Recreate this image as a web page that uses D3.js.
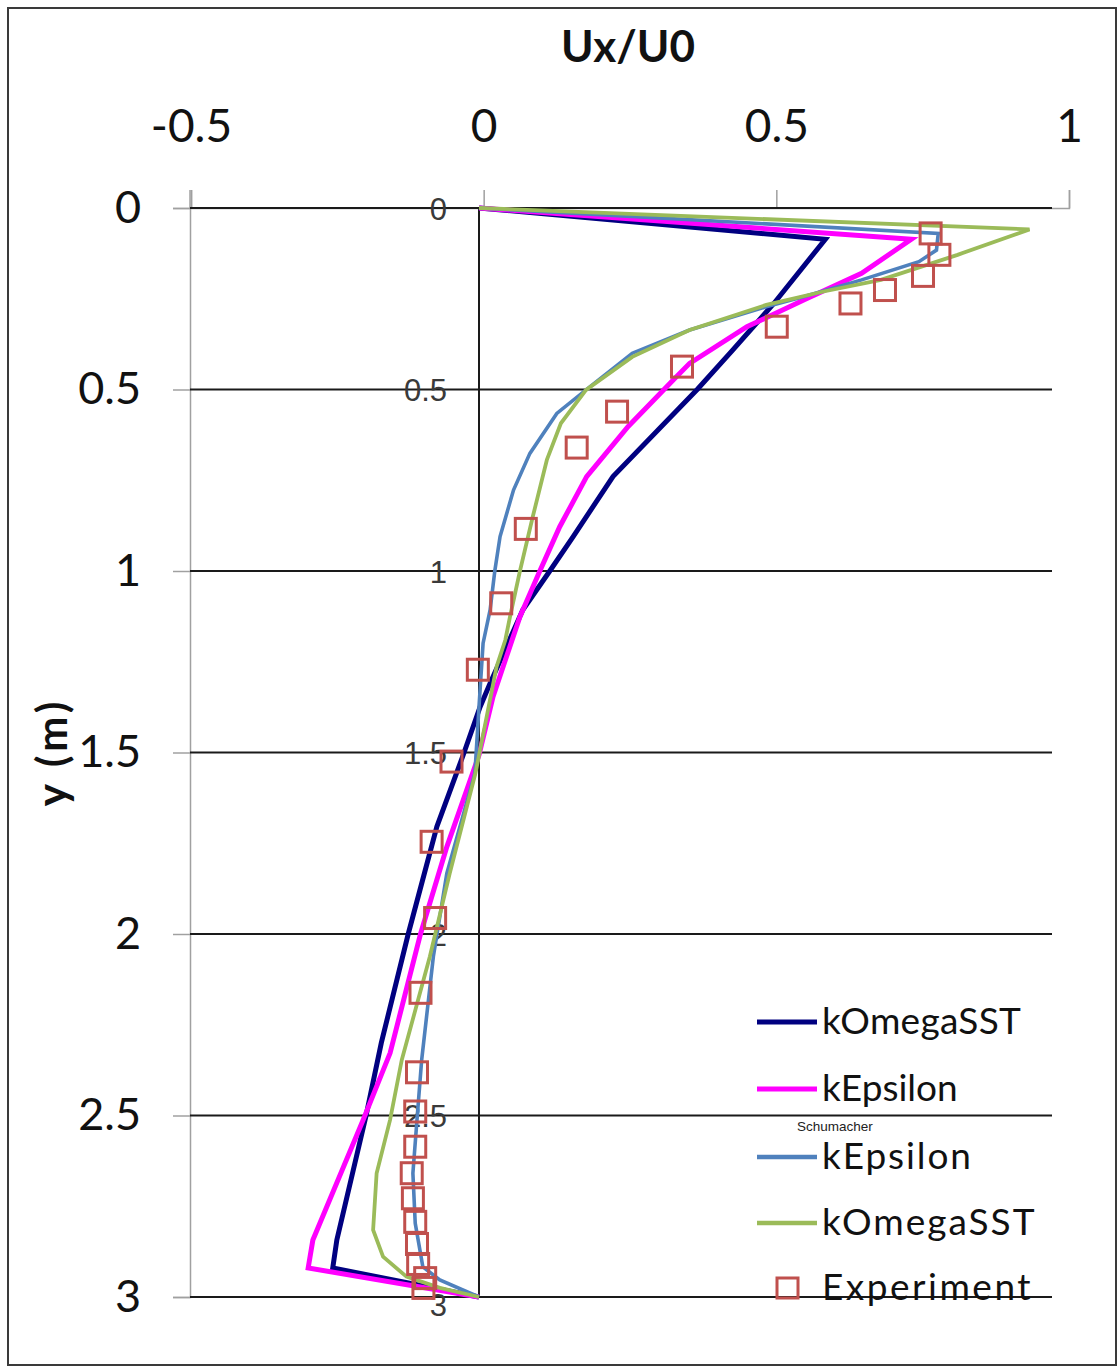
<!DOCTYPE html>
<html>
<head>
<meta charset="utf-8">
<script src="https://cdn.jsdelivr.net/npm/d3@7/dist/d3.min.js"></script>
<style>
  body { margin: 0; background: #fff; }
  svg { display: block; }
</style>
</head>
<body>
<svg id="chart" width="1118" height="1368"></svg>
<script>
// ---------------- DATA ----------------
const xTickValues = [-0.5, 0, 0.5, 1];
const xTickLabels = ["-0.5", "0", "0.5", "1"];
const yTickValues = [0, 0.5, 1, 1.5, 2, 2.5, 3];
const yTickLabels = ["0", "0.5", "1", "1.5", "2", "2.5", "3"];

// kOmegaSST (navy)
const komegaDepth = [0, 0.086, 0.263, 0.391, 0.5, 0.74, 0.905, 1.0, 1.107, 1.19, 1.309, 1.374, 1.507, 1.704, 2.0, 2.3, 2.5, 2.843, 2.92, 3.0];
const komegaUx    = [0, 0.592, 0.504, 0.434, 0.373, 0.229, 0.161, 0.121, 0.075, 0.052, 0.019, 0.002, -0.027, -0.072, -0.121, -0.167, -0.193, -0.243, -0.25, 0];

// kEpsilon (magenta)
const kepsDepth = [0, 0.086, 0.18, 0.253, 0.327, 0.428, 0.474, 0.602, 0.74, 0.878, 1.0, 1.126, 1.346, 1.507, 1.76, 2.0, 2.328, 2.512, 2.843, 2.92, 3.0];
const kepsUx    = [0, 0.739, 0.654, 0.556, 0.458, 0.36, 0.332, 0.255, 0.184, 0.138, 0.104, 0.070, 0.024, 0.0, -0.055, -0.10, -0.152, -0.198, -0.284, -0.292, 0];

// kEpsilon Schumacher (steel blue)
const kepsSchDepth = [0, 0.07, 0.116, 0.148, 0.198, 0.244, 0.272, 0.336, 0.40, 0.501, 0.566, 0.676, 0.777, 0.905, 1.0, 1.107, 1.199, 1.374, 1.557, 1.833, 2.062, 2.347, 2.512, 2.659, 2.797, 2.917, 2.953, 3.0];
const kepsSchUx    = [0, 0.785, 0.782, 0.752, 0.654, 0.556, 0.491, 0.36, 0.262, 0.183, 0.133, 0.087, 0.059, 0.036, 0.027, 0.019, 0.007, 0.0, -0.007, -0.055, -0.078, -0.098, -0.106, -0.113, -0.109, -0.096, -0.067, 0];

// kOmegaSST Schumacher (green)
const komegaSchDepth = [0, 0.059, 0.129, 0.198, 0.23, 0.267, 0.336, 0.41, 0.501, 0.593, 0.694, 0.85, 1.0, 1.126, 1.19, 1.264, 1.557, 1.833, 2.062, 2.347, 2.512, 2.659, 2.815, 2.889, 2.944, 2.975, 3.0];
const komegaSchUx    = [0, 0.941, 0.818, 0.687, 0.589, 0.491, 0.36, 0.262, 0.183, 0.14, 0.116, 0.092, 0.070, 0.053, 0.045, 0.030, -0.006, -0.05, -0.084, -0.132, -0.152, -0.175, -0.181, -0.164, -0.124, -0.067, 0];

// Experiment (squares)
const expDepth = [0.070, 0.129, 0.187, 0.226, 0.263, 0.327, 0.437, 0.561, 0.660, 0.884, 1.089, 1.272, 1.525, 1.746, 1.956, 2.162, 2.381, 2.489, 2.586, 2.659, 2.728, 2.793, 2.854, 2.909, 2.948, 2.975];
const expUx    = [0.772, 0.787, 0.759, 0.694, 0.635, 0.509, 0.347, 0.236, 0.167, 0.080, 0.038, -0.002, -0.047, -0.081, -0.075, -0.10, -0.106, -0.109, -0.109, -0.115, -0.113, -0.109, -0.106, -0.104, -0.092, -0.095];

const seriesNames = ["kOmegaSST", "kEpsilon", "kEpsilon", "kOmegaSST", "Experiment"];
const seriesColors = ["#000080", "#ff00ff", "#4f81bd", "#9bbb59", "#c0504d"];

// ---------------- CHART ----------------
const svg = d3.select("#chart");
svg.append("rect").attr("x", 0).attr("y", 0).attr("width", 1118).attr("height", 1368).attr("fill", "#fff");
// outer frame
svg.append("rect").attr("x", 8).attr("y", 8).attr("width", 1108).attr("height", 1357)
  .attr("fill", "none").attr("stroke", "#3a3a3a").attr("stroke-width", 2);

const xOuter = d3.scaleLinear().domain([-0.5, 1]).range([191, 1069]);
const xIn = d3.scaleLinear().domain([-0.5, 1]).range([186.5, 1064]);
const y = d3.scaleLinear().domain([0, 3]).range([208, 1297]);

const labelFont = "Lato, 'Open Sans', sans-serif";

// top axis (outer chart)
const topAxis = svg.append("g").attr("transform", "translate(0,208)")
  .call(d3.axisTop(xOuter).tickValues(xTickValues).tickSize(18).tickPadding(48)
    .tickFormat((d, i) => xTickLabels[i]));
topAxis.select(".domain").attr("stroke", "#a0a0a0").attr("stroke-width", 1.5);
topAxis.selectAll(".tick line").attr("stroke", "#a0a0a0").attr("stroke-width", 1.5);
topAxis.selectAll(".tick text").attr("font-family", labelFont).attr("font-size", 46).attr("fill", "#111");

// left axis (outer chart)
const leftAxis = svg.append("g").attr("transform", "translate(190,0)")
  .call(d3.axisLeft(y).tickValues(yTickValues).tickSize(17).tickPadding(32)
    .tickFormat((d, i) => yTickLabels[i]));
leftAxis.select(".domain").attr("stroke", "#a0a0a0").attr("stroke-width", 1.5);
leftAxis.selectAll(".tick line").attr("stroke", "#a0a0a0").attr("stroke-width", 1.5);
leftAxis.selectAll(".tick text").attr("font-family", labelFont).attr("font-size", 45).attr("fill", "#111");
// left axis line reaches up to the top-axis tick level
svg.append("line").attr("x1", 190).attr("x2", 190).attr("y1", 190).attr("y2", 208)
  .attr("stroke", "#a0a0a0").attr("stroke-width", 1.5);

// inner gridlines (black)
svg.append("g").selectAll("line").data(yTickValues).join("line")
  .attr("x1", 190).attr("x2", 1052)
  .attr("y1", d => y(d)).attr("y2", d => y(d))
  .attr("stroke", "#1a1a1a").attr("stroke-width", 2.2);

// inner vertical axis at x = 0
svg.append("line").attr("x1", xIn(0)).attr("x2", xIn(0)).attr("y1", y(0)).attr("y2", y(3))
  .attr("stroke", "#1a1a1a").attr("stroke-width", 2);

// inner axis labels
svg.append("g").selectAll("text").data(yTickValues).join("text")
  .attr("x", 447).attr("y", d => y(d) + (d === 3 ? 8 : 1))
  .attr("text-anchor", "end").attr("dominant-baseline", "central")
  .attr("font-family", "'Liberation Sans', Arial, sans-serif").attr("font-size", 31)
  .attr("fill", "#3a3a3a")
  .text((d, i) => yTickLabels[i]);

// titles
svg.append("text").attr("x", 628).attr("y", 62).attr("text-anchor", "middle")
  .attr("font-family", labelFont).attr("font-weight", "bold").attr("font-size", 44)
  .attr("fill", "#111").text("Ux/U0");
svg.append("text").attr("transform", "translate(67,752) rotate(-90)").attr("text-anchor", "middle")
  .attr("font-family", labelFont).attr("font-weight", "bold").attr("font-size", 42)
  .attr("letter-spacing", 4)
  .attr("fill", "#111").text("y (m)");

// lines
const line = d3.line().x(d => xIn(d[1])).y(d => y(d[0]));
const zip = (a, b) => a.map((v, i) => [v, b[i]]);
const lineSeries = [
  { data: zip(komegaDepth, komegaUx), color: seriesColors[0], w: 5 },
  { data: zip(kepsDepth, kepsUx), color: seriesColors[1], w: 5 },
  { data: zip(kepsSchDepth, kepsSchUx), color: seriesColors[2], w: 3.6 },
  { data: zip(komegaSchDepth, komegaSchUx), color: seriesColors[3], w: 3.8 }
];
svg.append("g").selectAll("path").data(lineSeries).join("path")
  .attr("d", d => line(d.data))
  .attr("fill", "none").attr("stroke", d => d.color).attr("stroke-width", d => d.w)
  .attr("stroke-linejoin", "miter");

// experiment squares
const sq = 21;
svg.append("g").selectAll("rect").data(zip(expDepth, expUx)).join("rect")
  .attr("x", d => xIn(d[1]) - sq / 2).attr("y", d => y(d[0]) - sq / 2)
  .attr("width", sq).attr("height", sq)
  .attr("fill", "none").attr("stroke", seriesColors[4]).attr("stroke-width", 3);

// legend
const legendY = [1022, 1089, 1157, 1223, 1288];
const legendSpacing = [0.3, 0, 1.9, 2, 2.5];
const leg = svg.append("g");
seriesNames.forEach((name, i) => {
  const ly = legendY[i];
  if (i < 4) {
    leg.append("line").attr("x1", 757).attr("x2", 817).attr("y1", ly).attr("y2", ly)
      .attr("stroke", seriesColors[i]).attr("stroke-width", i < 2 ? 5 : 4.5);
  } else {
    leg.append("rect").attr("x", 777).attr("y", ly - 10).attr("width", 21).attr("height", 20)
      .attr("fill", "none").attr("stroke", seriesColors[4]).attr("stroke-width", 3);
  }
  leg.append("text").attr("x", 822).attr("y", ly + 12)
    .attr("font-family", labelFont).attr("font-size", 37).attr("fill", "#111")
    .attr("letter-spacing", legendSpacing[i])
    .text(name);
});
leg.append("text").attr("x", 797).attr("y", 1131)
  .attr("font-family", "'Liberation Sans', Arial, sans-serif").attr("font-size", 13.5)
  .attr("fill", "#222").text("Schumacher");
</script>
</body>
</html>
